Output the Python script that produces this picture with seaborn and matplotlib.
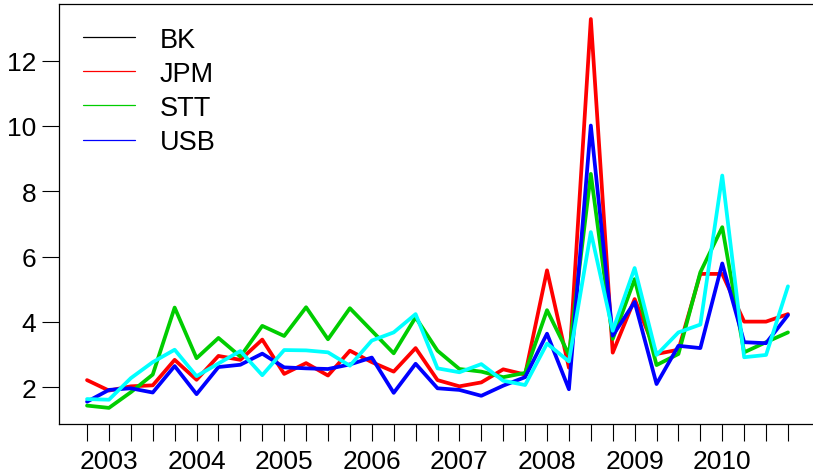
import matplotlib
matplotlib.use("Agg")
import matplotlib.pyplot as plt
from matplotlib.lines import Line2D
import numpy as np
import pandas as pd
import seaborn as sns

# Quarterly series, 2002 Q4 through 2010 Q4
BK = [2.22, 1.90, 2.03, 2.06, 2.84, 2.23, 2.96, 2.84, 3.46, 2.41, 2.74, 2.36,
      3.12, 2.77, 2.48, 3.20, 2.22, 2.03, 2.15, 2.55, 2.39, 5.58, 2.60, 13.27,
      3.06, 4.70, 3.02, 3.15, 5.47, 5.47, 4.01, 4.01, 4.24]
JPM = [1.44, 1.37, 1.85, 2.39, 4.44, 2.89, 3.51, 2.94, 3.88, 3.57, 4.45, 3.47,
       4.42, 3.73, 3.04, 4.14, 3.12, 2.56, 2.48, 2.31, 2.44, 4.36, 3.00, 8.53,
       3.48, 5.31, 2.68, 3.02, 5.52, 6.90, 3.07, 3.38, 3.68]
STT = [1.56, 1.92, 1.97, 1.84, 2.65, 1.79, 2.62, 2.69, 3.03, 2.61, 2.58, 2.56,
       2.70, 2.91, 1.83, 2.72, 1.97, 1.92, 1.74, 2.05, 2.31, 3.64, 1.94, 10.01,
       3.58, 4.61, 2.10, 3.27, 3.20, 5.79, 3.38, 3.35, 4.21]
USB = [1.64, 1.62, 2.28, 2.77, 3.15, 2.34, 2.73, 3.11, 2.37, 3.14, 3.13, 3.07,
       2.66, 3.43, 3.68, 4.24, 2.58, 2.46, 2.71, 2.20, 2.07, 3.34, 2.79, 6.75,
       3.73, 5.65, 2.99, 3.68, 3.92, 8.48, 2.92, 2.99, 5.09]

tickers = ["BK", "JPM", "STT", "USB"]
year_labels = ["2003", "2004", "2005", "2006", "2007", "2008", "2009", "2010"]

line_colors = ["#FF0000", "#00CD00", "#0000FF", "#00FFFF"]
legend_colors = ["#000000", "#FF0000", "#00CD00", "#0000FF"]

n = len(BK)
quarter = np.arange(n)
df = pd.DataFrame({
    "quarter": np.tile(quarter, 4),
    "value": BK + JPM + STT + USB,
    "ticker": np.repeat(tickers, n),
})

sns.set_style("white")
plt.rcParams["font.family"] = ["Liberation Sans", "DejaVu Sans"]
plt.rcParams["text.color"] = "black"
plt.rcParams["xtick.color"] = "black"
plt.rcParams["ytick.color"] = "black"
plt.rcParams["axes.labelcolor"] = "black"

fig = plt.figure(figsize=(8.13, 4.77), dpi=100)
ax = fig.add_axes([59 / 813, 52.3 / 477, 757 / 813, 419.7 / 477])

sns.lineplot(data=df, x="quarter", y="value", hue="ticker",
             palette=dict(zip(tickers, line_colors)), linewidth=2.7,
             legend=False, ax=ax)

ax.set_xlim(-1.28, n - 1 + 1.28)
ax.set_ylim(0.886, 13.73)
ax.set_xlabel("")
ax.set_ylabel("")

ax.set_xticks(quarter)
xlabels = [""] * n
for k, lab in enumerate(year_labels):
    xlabels[1 + 4 * k] = lab
ax.set_xticklabels(xlabels)
ax.set_yticks([2, 4, 6, 8, 10, 12])
ax.set_yticklabels(["2", "4", "6", "8", "10", "12"])

ax.tick_params(axis="both", which="major", direction="out", length=12.2,
               width=0.8, color="black", labelcolor="black", labelsize=19,
               left=True, bottom=True)
ax.tick_params(axis="x", pad=6.0)
ax.tick_params(axis="y", pad=4.3)

for side in ["left", "top", "bottom"]:
    ax.spines[side].set_visible(True)
    ax.spines[side].set_color("black")
    ax.spines[side].set_linewidth(0.9)
ax.spines["right"].set_visible(False)

handles = [Line2D([0], [0], color=c, linewidth=0.9) for c in legend_colors]
ax.legend(handles, tickers, loc="upper left", bbox_to_anchor=(0.032, 0.946),
          frameon=False, fontsize=19.5, handlelength=1.9, handletextpad=0.92,
          labelspacing=0.30, borderpad=0, borderaxespad=0, labelcolor="black")

fig.savefig("out.png", dpi=100)
